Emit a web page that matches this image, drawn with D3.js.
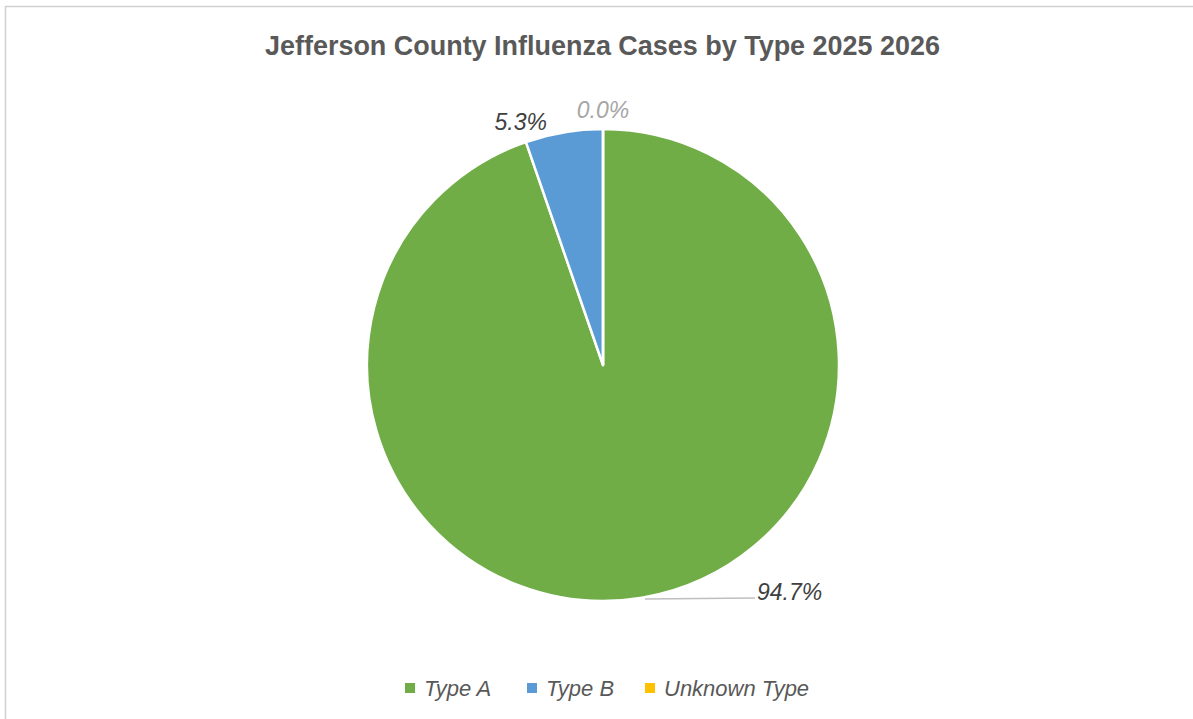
<!DOCTYPE html>
<html>
<head>
<meta charset="utf-8">
<script src="https://cdn.jsdelivr.net/npm/d3@7"></script>
<style>
    body { margin: 0; background: #fff; }
    svg { display: block; }
</style>
</head>
<body>
<div id="chart"></div>
<script>
// chart data
let categories = ["Type A", "Type B", "Unknown Type"];
let caseCounts = [143, 8, 0];
let sliceColors = ["#70AD47", "#5B9BD5", "#FFC000"];
let labelColors = ["#404040", "#404040", "#a6a6a6"];

let width = 1193,
    height = 719;

let svg = d3.select("#chart").append("svg")
    .attr("width", width)
    .attr("height", height);

// chart border
svg.append("rect")
    .attr("x", 5.5)
    .attr("y", 6.5)
    .attr("width", width)
    .attr("height", height)
    .attr("fill", "none")
    .attr("stroke", "#d0d0d0")
    .attr("stroke-width", 1.5);

// title (original font is a narrow face, so squeeze it)
svg.append("text")
    .attr("x", 265)
    .attr("y", 55)
    .attr("textLength", 675)
    .attr("lengthAdjust", "spacingAndGlyphs")
    .style("font-family", "'Liberation Sans', Arial, sans-serif")
    .style("font-weight", "bold")
    .style("font-size", "27px")
    .style("fill", "#595959")
    .text("Jefferson County Influenza Cases by Type 2025 2026");

let cx = 603, cy = 365, radius = 236;

let pieData = categories.map((c, i) => ({name: c, value: caseCounts[i], color: sliceColors[i], labelColor: labelColors[i]}));
let total = d3.sum(caseCounts);

let pie = d3.pie()
    .sort(null)
    .value(d => d.value);

let arc = d3.arc()
    .innerRadius(0)
    .outerRadius(radius);

let pieGroup = svg.append("g")
    .attr("transform", "translate(" + cx + "," + cy + ")");

let arcs = pie(pieData);

pieGroup.selectAll(".arc")
    .data(arcs)
    .enter()
    .append("path")
    .attr("class", "arc")
    .attr("d", arc)
    .attr("fill", d => d.data.color)
    .attr("stroke", "#fff")
    .attr("stroke-width", 2.5)
    .attr("stroke-linejoin", "round");

// labels, outside end
let fmt = d3.format(".1%");
let labelArc = d3.arc().innerRadius(radius + 12).outerRadius(radius + 12);

arcs.forEach(function(d) {
    let pct = fmt(d.value / total);
    let x, y, anchor;
    if (d.data.name == "Type A") {
        // label pushed down-right with a leader line
        x = 757 - cx; y = 600 - cy; anchor = "start";
        pieGroup.append("line")
            .attr("x1", 42).attr("y1", radius - 2)
            .attr("x2", 152).attr("y2", radius - 3)
            .attr("stroke", "#bfbfbf")
            .attr("stroke-width", 1.5);
    } else {
        let mid = (d.startAngle + d.endAngle) / 2;
        let c = labelArc.centroid({startAngle: mid, endAngle: mid});
        if (d.value > 0) {
            x = c[0] - 15; y = c[1] + 10; anchor = "end";
        } else {
            x = c[0]; y = c[1] + 1; anchor = "middle";
        }
    }
    pieGroup.append("text")
        .attr("x", x)
        .attr("y", y)
        .attr("text-anchor", anchor)
        .style("font-family", "'Liberation Sans', Arial, sans-serif")
        .style("font-style", "italic")
        .style("font-size", "23px")
        .style("fill", d.data.labelColor)
        .text(pct);
});

// legend
let legendX = [405, 527, 645];
let legend = svg.append("g")
    .attr("class", "legend");

let items = legend.selectAll(".legend-item")
    .data(pieData)
    .enter()
    .append("g")
    .attr("transform", (d, i) => "translate(" + legendX[i] + "," + 688 + ")");

items.append("rect")
    .attr("x", 0)
    .attr("y", -5)
    .attr("width", 10)
    .attr("height", 10)
    .attr("fill", d => d.color);

items.append("text")
    .attr("x", 19)
    .attr("y", 8)
    .style("font-family", "'Liberation Sans', Arial, sans-serif")
    .style("font-style", "italic")
    .style("font-size", "22px")
    .style("fill", "#595959")
    .text(d => d.name);
</script>
</body>
</html>
